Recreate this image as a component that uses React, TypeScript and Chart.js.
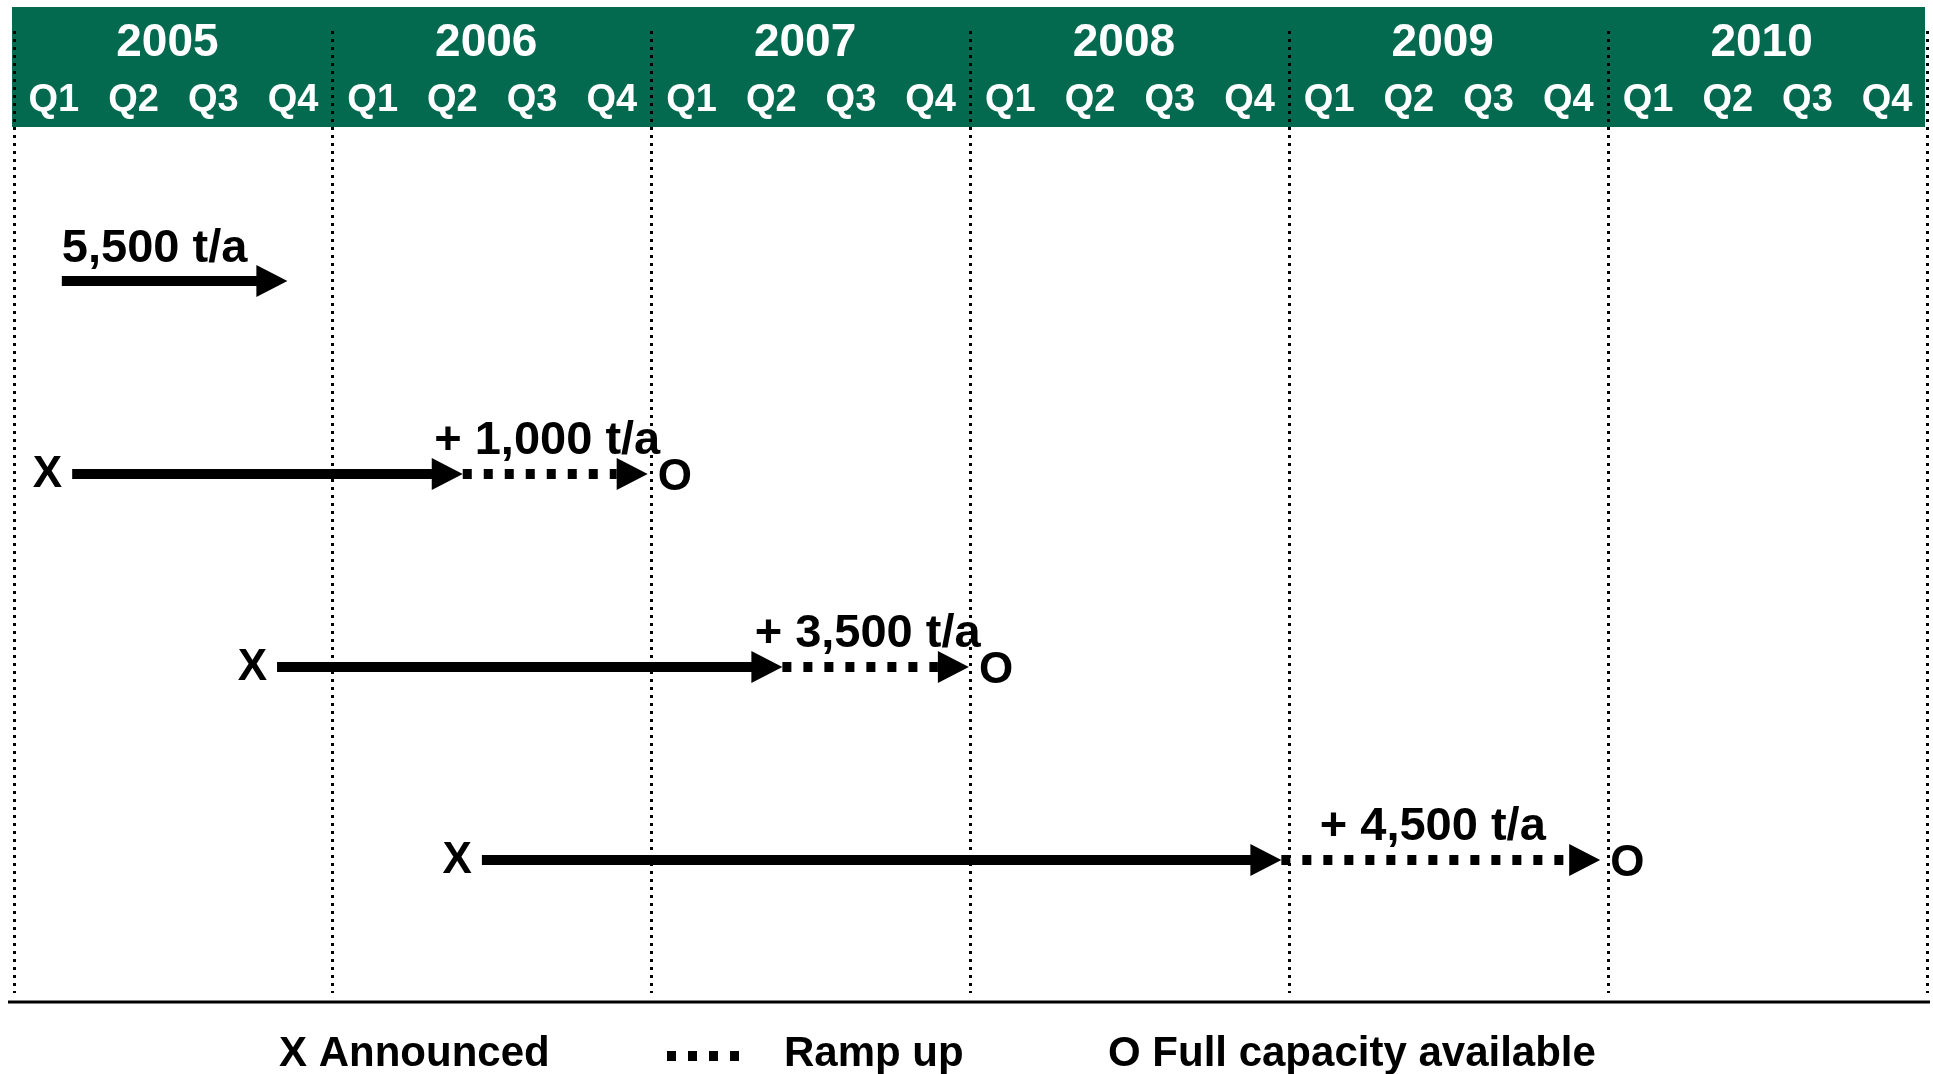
import React, { useEffect, useRef } from "react";
import { Chart, registerables } from "chart.js";

Chart.register(...registerables);

// ---- data (positions on the time axis are in quarters counted from the start of 2005 Q1) ----
const years = ["2005", "2006", "2007", "2008", "2009", "2010"];
const quarterLabels = ["Q1", "Q2", "Q3", "Q4"];

const rowLabels = ["5,500 t/a", "+ 1,000 t/a", "+ 3,500 t/a", "+ 4,500 t/a"];
const rowIndex = [1, 2, 3, 4];
const announcedAt = [0.6, 0.73, 3.3, 5.87];
const rampStartAt = [3.43, 5.63, 9.64, 15.9];
const fullCapacityAt: (number | null)[] = [null, 7.95, 11.98, 19.9];
const showMarkers = [false, true, true, true];

const legendLabels = ["X Announced", "Ramp up", "O Full capacity available"];

// ---- style ----
const GREEN = "#036A50";
const FONT = '"Liberation Sans", Arial, Helvetica, sans-serif';
const W = 1933;
const H = 1074;

function arrowHead(ctx: CanvasRenderingContext2D, tipX: number, y: number, len: number, half: number) {
  ctx.beginPath();
  ctx.moveTo(tipX, y);
  ctx.lineTo(tipX - len, y - half);
  ctx.lineTo(tipX - len, y + half);
  ctx.closePath();
  ctx.fill();
}

const timelinePlugin = {
  id: "timelinePlugin",
  beforeDraw(chart: any) {
    const { ctx } = chart;
    const xs = chart.scales.x;
    const left = xs.getPixelForValue(0) - 2;
    const right = xs.getPixelForValue(24) - 2;
    ctx.save();
    ctx.fillStyle = "#ffffff";
    ctx.fillRect(0, 0, W, H);
    ctx.fillStyle = GREEN;
    ctx.fillRect(left, 7, right - left, 120);
    ctx.restore();
  },
  afterDraw(chart: any) {
    const { ctx } = chart;
    const xs = chart.scales.x;
    const ys = chart.scales.y;
    ctx.save();

    // header texts
    ctx.fillStyle = "#ffffff";
    ctx.textAlign = "center";
    ctx.textBaseline = "middle";
    years.forEach((yr, i) => {
      ctx.font = `bold 46px ${FONT}`;
      ctx.fillText(yr, xs.getPixelForValue(i * 4 + 2) - 6, 43);
      quarterLabels.forEach((q, j) => {
        ctx.font = `bold 38px ${FONT}`;
        ctx.fillText(q, xs.getPixelForValue(i * 4 + j + 0.5), 101);
      });
    });

    // arrows
    const HEAD_LEN = 31;
    const HEAD_HALF = 16;
    ctx.fillStyle = "#000";
    ctx.strokeStyle = "#000";
    ctx.lineCap = "butt";
    rowIndex.forEach((r, i) => {
      const y = ys.getPixelForValue(r);
      const x0 = xs.getPixelForValue(announcedAt[i]);
      const x1 = xs.getPixelForValue(rampStartAt[i]);
      ctx.lineWidth = 10;
      ctx.setLineDash([]);
      ctx.beginPath();
      ctx.moveTo(x0, y);
      ctx.lineTo(x1 - HEAD_LEN + 2, y);
      ctx.stroke();
      arrowHead(ctx, x1, y, HEAD_LEN, HEAD_HALF);

      const full = fullCapacityAt[i];
      ctx.font = `bold 47px ${FONT}`;
      ctx.textBaseline = "alphabetic";
      if (full !== null) {
        const x2 = xs.getPixelForValue(full);
        ctx.setLineDash([9, 12]);
        ctx.beginPath();
        ctx.moveTo(x1, y);
        ctx.lineTo(x2 - HEAD_LEN, y);
        ctx.stroke();
        ctx.setLineDash([]);
        arrowHead(ctx, x2, y, HEAD_LEN, HEAD_HALF);
        ctx.textAlign = "center";
        ctx.fillText(rowLabels[i], (x1 + x2) / 2 - 8, y - 20);
        if (showMarkers[i]) {
          ctx.font = `bold 44px ${FONT}`;
          ctx.textBaseline = "middle";
          ctx.textAlign = "left";
          ctx.fillText("O", x2 + 10, y + 4);
        }
      } else {
        ctx.textAlign = "left";
        ctx.fillText(rowLabels[i], x0, y - 19);
      }
      if (showMarkers[i]) {
        ctx.font = `bold 44px ${FONT}`;
        ctx.textBaseline = "middle";
        ctx.textAlign = "right";
        ctx.fillText("X", x0 - 10, y + 1);
      }
    });

    // bottom axis line
    ctx.setLineDash([]);
    ctx.lineWidth = 3;
    ctx.beginPath();
    ctx.moveTo(8, 1002);
    ctx.lineTo(1930, 1002);
    ctx.stroke();

    // legend
    ctx.font = `bold 42px ${FONT}`;
    ctx.textBaseline = "middle";
    ctx.textAlign = "left";
    ctx.fillText(legendLabels[0], 279, 1054);
    ctx.lineWidth = 10;
    ctx.setLineDash([9, 12]);
    ctx.beginPath();
    ctx.moveTo(667, 1056);
    ctx.lineTo(748, 1056);
    ctx.stroke();
    ctx.setLineDash([]);
    ctx.fillText(legendLabels[1], 784, 1054);
    ctx.fillText(legendLabels[2], 1108, 1054);

    ctx.restore();
  },
};

export default function App() {
  const ref = useRef<HTMLCanvasElement>(null);
  useEffect(() => {
    const canvas = ref.current;
    if (!canvas) return;
    const datasets = rowIndex.map((r, i) => {
      const pts: { x: number; y: number }[] = [
        { x: announcedAt[i], y: r },
        { x: rampStartAt[i], y: r },
      ];
      const f = fullCapacityAt[i];
      if (f !== null) pts.push({ x: f, y: r });
      return {
        label: rowLabels[i],
        data: pts,
        pointRadius: 0,
        showLine: false,
        borderColor: "rgba(0,0,0,0)",
        backgroundColor: "rgba(0,0,0,0)",
      };
    });
    const chart = new Chart(canvas, {
      type: "scatter",
      data: { datasets },
      options: {
        animation: false,
        responsive: false,
        devicePixelRatio: 1,
        events: [],
        layout: { padding: { left: 14, right: 6, top: 31, bottom: 81 } },
        plugins: { legend: { display: false }, tooltip: { enabled: false } },
        scales: {
          x: {
            type: "linear",
            min: 0,
            max: 24,
            ticks: { display: false, stepSize: 4 },
            grid: { color: "#000", lineWidth: 3, drawTicks: false },
            border: { display: false, dash: [3, 5] },
          },
          y: {
            type: "linear",
            min: -0.295,
            max: 4.689,
            reverse: true,
            display: false,
          },
        },
      } as any,
      plugins: [timelinePlugin],
    });
    return () => chart.destroy();
  }, []);
  return (
    <div style={{ position: "absolute", left: 0, top: 0, width: W, height: H, background: "#fff" }}>
      <canvas ref={ref} width={W} height={H} style={{ display: "block", width: W, height: H }} />
    </div>
  );
}
